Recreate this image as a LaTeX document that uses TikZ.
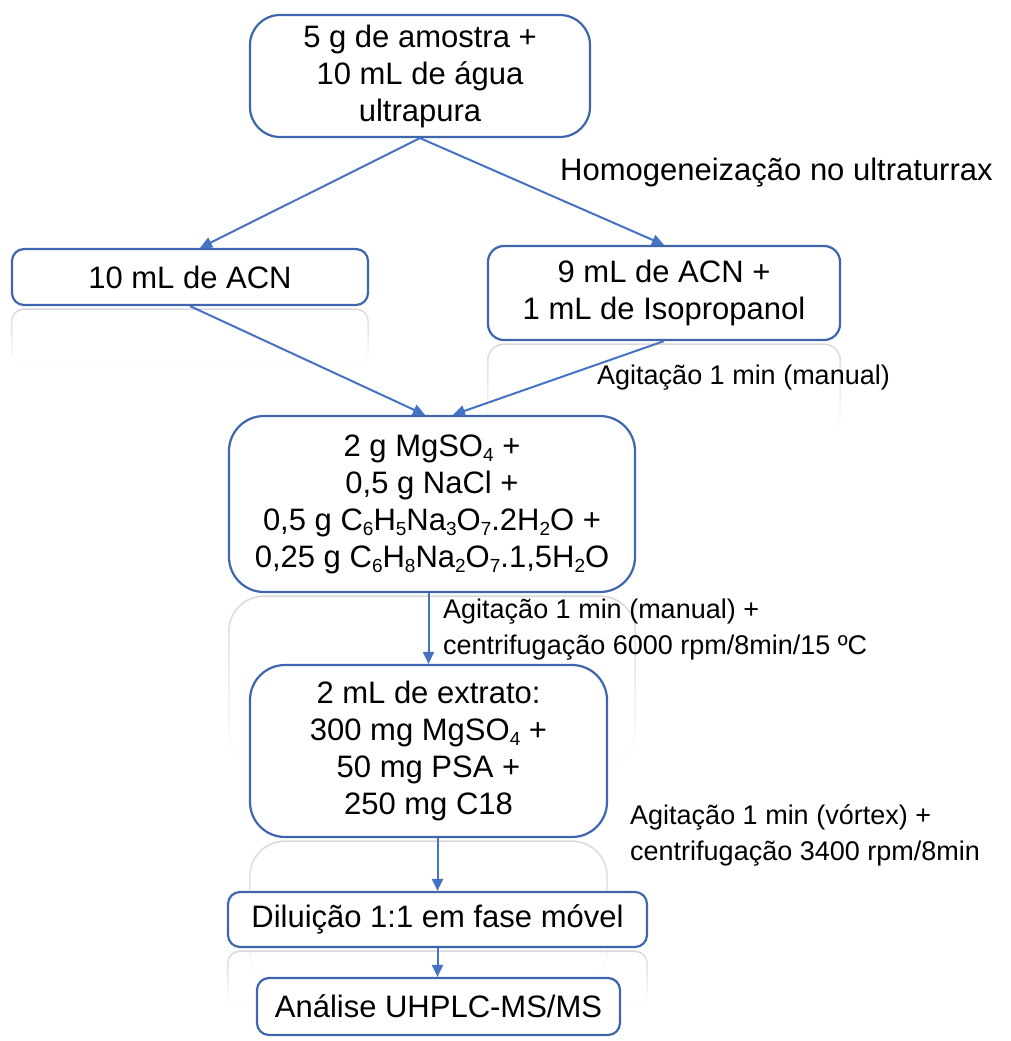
\documentclass[tikz,border=0pt]{standalone}
\usepackage{fontspec}
\setmainfont{Liberation Sans}
\usetikzlibrary{arrows.meta,calc,fadings}
\definecolor{boxblue}{HTML}{3F66AD}
\definecolor{arrblue}{HTML}{4472C4}
\newcommand{\chs}[1]{\raisebox{-0.32ex}{\fontsize{19}{19}\selectfont #1}}
\newcommand{\reflbox}[3]{% node, radius, length
  \draw[refl, rounded corners=#2]
    ($(#1.south west)+(0,#3)$) -- ($(#1.south west)+(0,4)$) -- ($(#1.south east)+(0,4)$) -- ($(#1.south east)+(0,#3)$) -- cycle;}
\begin{document}
\begin{tikzpicture}[x=1pt,y=-1pt,
  box/.style={draw=boxblue, line width=2.2pt, fill=white, inner sep=0pt, align=center,
     font=\fontsize{31}{37}\selectfont},
  lbl/.style={inner sep=0pt, align=left, font=\fontsize{27}{36}\selectfont},
  arr/.style={draw=arrblue, line width=2pt, -{Triangle[length=12pt,width=11pt]}},
  refl/.style={draw=black!15, line width=1.6pt, path fading=south}]
\useasboundingbox (0,0) rectangle (1011,1041);
% reflections (drawn first, behind)
\path (190,277) node[minimum width=356pt, minimum height=56pt, inner sep=0pt] (acnR) {};
\path (664,293) node[minimum width=352pt, minimum height=94pt, inner sep=0pt] (isoR) {};
\path (432,504) node[minimum width=406pt, minimum height=176pt, inner sep=0pt] (bigR) {};
\path (428.5,751) node[minimum width=357pt, minimum height=172pt, inner sep=0pt] (extR) {};
\path (437.5,919.5) node[minimum width=419pt, minimum height=55pt, inner sep=0pt] (dilR) {};
\reflbox{acnR}{12pt}{58}
\reflbox{isoR}{16pt}{90}
\reflbox{bigR}{35pt}{175}
\reflbox{extR}{35pt}{150}
\reflbox{dilR}{12pt}{58}
% boxes
\node[box, rounded corners=30pt, minimum width=340pt, minimum height=122pt] (top) at (420,76)
  {5 g de amostra +\\10 mL de água\\ultrapura};
\node[box, rounded corners=12pt, minimum width=356pt, minimum height=56pt] (acn) at (190,277)
  {10 mL de ACN};
\node[box, rounded corners=16pt, minimum width=352pt, minimum height=94pt] (iso) at (664,293)
  {9 mL de ACN +\\1 mL de Isopropanol};
\node[box, rounded corners=35pt, minimum width=406pt, minimum height=176pt] (big) at (432,504)
  {2 g MgSO\chs{4} +\\0,5 g NaCl +\\0,5 g C\chs{6}H\chs{5}Na\chs{3}O\chs{7}.2H\chs{2}O +\\0,25 g C\chs{6}H\chs{8}Na\chs{2}O\chs{7}.1,5H\chs{2}O};
\node[box, rounded corners=35pt, minimum width=357pt, minimum height=172pt] (ext) at (428.5,751)
  {2 mL de extrato:\\300 mg MgSO\chs{4} +\\50 mg PSA +\\250 mg C18};
\node[box, rounded corners=12pt, minimum width=419pt, minimum height=55pt] (dil) at (437.5,919.5)
  {Diluição 1:1 em fase móvel};
\node[box, rounded corners=12pt, minimum width=363pt, minimum height=57pt] (ana) at (438.5,1006.5)
  {Análise UHPLC-MS/MS};
% labels
\node[inner sep=0pt, anchor=west, font=\fontsize{31}{37}\selectfont] (homo) at (560,173) {Homogeneização no ultraturrax};
\node[lbl, anchor=west] (ag1) at (597,378) {Agitação 1 min (manual)};
\node[lbl, anchor=west] (ag2) at (443,630) {Agitação 1 min (manual) +\\centrifugação 6000 rpm/8min/15 ºC};
\node[lbl, anchor=west] (ag3) at (630,835) {Agitação 1 min (vórtex) +\\centrifugação 3400 rpm/8min};
% connectors
\draw[arr] (top.south) -- ($(acn.north west)!0.528!(acn.north east)$);
\draw[arr] (top.south) -- (iso.north);
\draw[arr] (acn.south) -- ($(big.north)+(-7,0)$);
\draw[arr] (iso.south) -- ($(big.north)+(21,0)$);
\draw[arr] (ext.north |- big.south) -- (ext.north);
\draw[arr] (dil.north |- ext.south) -- (dil.north);
\draw[arr] (dil.south) -- (dil.south |- ana.north);
\end{tikzpicture}
\end{document}
